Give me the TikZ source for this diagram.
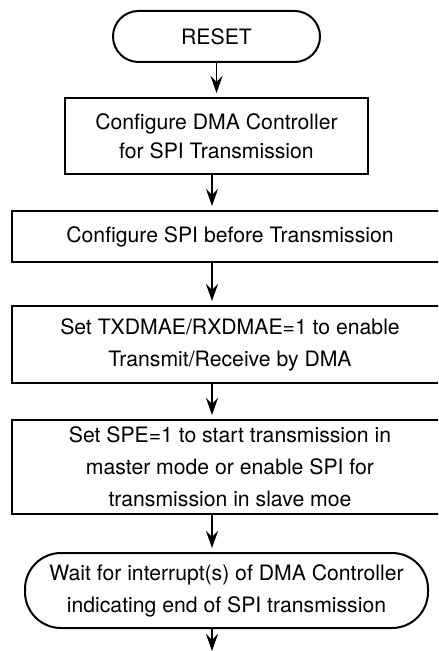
\documentclass[tikz,border=0pt]{standalone}
\usepackage{fontspec}
\setmainfont{TeX Gyre Heros}
\usetikzlibrary{arrows.meta}

\tikzset{
  box/.style={draw, line width=1pt, align=center, inner sep=0pt,
    font=\fontsize{10.6}{16}\selectfont},
  terminal/.style={box, rounded corners=#1},
  flow/.style={-{Stealth[length=8.5pt,width=6pt,inset=3pt]}, line width=0.75pt, shorten >=2pt}
}

\begin{document}
\begin{tikzpicture}[x=0.5pt, y=-0.5pt]
    % Frame
    \useasboundingbox (0,0) rectangle (438,651);
    \clip (0,0) rectangle (438,651);
    % Steps
    \node[terminal=12.75pt, minimum width=103.5pt, minimum height=25.5pt] (reset) at (216.5,36.5) {RESET};
    \node[box, minimum width=151.5pt, minimum height=38pt, font=\fontsize{10.6}{14.5}\selectfont] (dmacfg) at (216.5,136) {Configure DMA Controller\\for SPI Transmission};
    \node[box, minimum width=218pt, minimum height=25.5pt] (spicfg) at (230,236.5) {Configure SPI before Transmission};
    \node[box, minimum width=218pt, minimum height=38.5pt] (dmaen) at (230,344.5) {Set TXDMAE/RXDMAE=1 to enable\\Transmit/Receive by DMA};
    \node[box, minimum width=218pt, minimum height=47pt] (spe) at (230,467) {Set SPE=1 to start transmission in\\master mode or enable SPI for\\transmission in slave moe};
    \node[terminal=18pt, minimum width=201.5pt, minimum height=37.5pt] (wait) at (226.5,590.5) {Wait for interrupt(s) of DMA Controller\\indicating end of SPI transmission};
    % Coordinate
    \coordinate (axis) at (212,0);
    \coordinate (end) at (212,651);
    % Arrows
    \draw[flow] (reset) -- (dmacfg);
    \draw[flow] (dmacfg.south -| axis) -- (spicfg.north -| axis);
    \draw[flow] (spicfg.south -| axis) -- (dmaen.north -| axis);
    \draw[flow] (dmaen.south -| axis) -- (spe.north -| axis);
    \draw[flow] (spe.south -| axis) -- (wait.north -| axis);
    \draw[flow, shorten >=0pt] (wait.south -| axis) -- (end);
\end{tikzpicture}
\end{document}
